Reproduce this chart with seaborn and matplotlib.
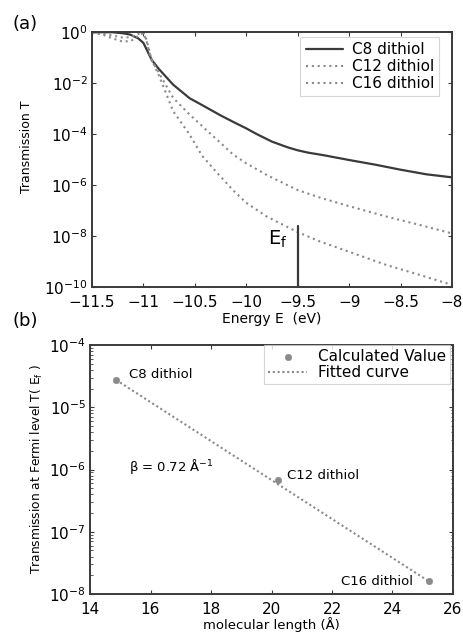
import numpy as np
import pandas as pd
import matplotlib
matplotlib.use("Agg")
import matplotlib.pyplot as plt
import seaborn as sns
from matplotlib.ticker import LogLocator, FixedLocator, NullFormatter

# ---------------- data (panel a): energy vs log10(T) ----------------
c8_E = [-11.5, -11.3, -11.2, -11.13, -11.05, -11.0, -10.92, -10.85, -10.71, -10.55,
        -10.45, -10.25, -10.13, -10.0, -9.9, -9.75, -9.6, -9.5, -9.4, -9.25, -9.0,
        -8.75, -8.5, -8.25, -8.0]
c8_logT = [-0.01, -0.01, -0.05, -0.1, -0.25, -0.43, -1.09, -1.45, -2.07, -2.6,
           -2.82, -3.27, -3.52, -3.78, -4.0, -4.3, -4.52, -4.64, -4.73, -4.83, -5.02,
           -5.2, -5.4, -5.58, -5.7]

c12_E = [-11.5, -11.4, -11.3, -11.2, -11.12, -11.05, -11.0, -10.97, -10.92, -10.85,
         -10.71, -10.55, -10.4, -10.25, -10.13, -10.0, -9.8, -9.5, -9.28, -9.0,
         -8.635, -8.31, -8.0]
c12_logT = [-0.02, -0.06, -0.14, -0.22, -0.2, -0.08, -0.02, -0.3, -1.1, -1.6,
            -2.59, -3.24, -3.8, -4.35, -4.8, -5.15, -5.61, -6.2, -6.5, -6.83,
            -7.24, -7.57, -7.9]

c16_E = [-11.5, -11.4, -11.3, -11.2, -11.12, -11.05, -11.0, -10.97, -10.93, -10.85,
         -10.71, -10.55, -10.43, -10.3, -10.13, -10.0, -9.8, -9.5, -9.28, -9.0,
         -8.635, -8.31, -8.0]
c16_logT = [-0.03, -0.1, -0.25, -0.38, -0.35, -0.15, -0.04, -0.35, -1.0, -1.7,
            -3.11, -4.03, -4.85, -5.45, -6.2, -6.7, -7.24, -7.85, -8.22, -8.62,
            -9.14, -9.53, -9.92]

series_names = ["C8 dithiol", "C12 dithiol", "C16 dithiol"]
fermi_E = -9.5
fermi_top_logT = -7.6

# ---------------- data (panel b) ----------------
mol_names = ["C8 dithiol", "C12 dithiol", "C16 dithiol"]
mol_length = [14.86, 20.2, 25.2]
mol_T = [2.75e-5, 6.8e-7, 1.6e-8]
label_x = [15.3, 20.5, 22.3]
label_logT = [-4.48, -6.09, -7.8]
beta_text = r"$\beta$ = 0.72 Å$^{-1}$"

# ---------------- style ----------------
sns.set_style("ticks")
plt.rcParams["font.family"] = ["DejaVu Sans"]
plt.rcParams["mathtext.fontset"] = "dejavusans"
plt.rcParams["mathtext.default"] = "regular"
plt.rcParams["text.color"] = "black"
plt.rcParams["axes.labelcolor"] = "black"
plt.rcParams["xtick.labelcolor"] = "black"
plt.rcParams["ytick.labelcolor"] = "black"

dark = "#3a3a3a"
gray = "#8a8a8a"

fig = plt.figure(figsize=(4.64, 6.32), dpi=100)
ax1 = fig.add_axes([92/464, 1-287/632, 360/464, 255/632])
ax2 = fig.add_axes([90/464, 1-594/632, 363/464, 249/632])

df = pd.concat([
    pd.DataFrame({"E": c8_E, "T": 10**np.array(c8_logT), "s": series_names[0]}),
    pd.DataFrame({"E": c12_E, "T": 10**np.array(c12_logT), "s": series_names[1]}),
    pd.DataFrame({"E": c16_E, "T": 10**np.array(c16_logT), "s": series_names[2]}),
])

styles = {series_names[0]: (dark, "-", 1.6),
          series_names[1]: (gray, (0, (1, 1.8)), 1.5),
          series_names[2]: (gray, (0, (1, 1.8)), 1.5)}
for name in series_names:
    col, ls, lw = styles[name]
    sns.lineplot(data=df[df["s"] == name], x="E", y="T", ax=ax1, color=col,
                 linestyle=ls, linewidth=lw, label=name, sort=False)

ax1.set_yscale("log")
ax1.set_xlim(-11.5, -8)
ax1.set_ylim(1e-10, 1)
ax1.plot([fermi_E, fermi_E], [1e-10, 10**fermi_top_logT], color=dark, lw=1.6)
ax1.text(-9.79, 10**-8.15, r"E$_f$", fontsize=14, ha="left", va="center")
ax1.set_xticks(np.arange(-11.5, -7.99, 0.5))
ax1.set_xticklabels(["\u221211.5", "\u221211", "\u221210.5", "\u221210", "\u22129.5",
                     "\u22129", "\u22128.5", "\u22128"])
ax1.yaxis.set_major_locator(FixedLocator([1e-10, 1e-8, 1e-6, 1e-4, 1e-2, 1]))
ax1.set_yticklabels([r"10$^{-10}$", r"10$^{-8}$", r"10$^{-6}$", r"10$^{-4}$",
                     r"10$^{-2}$", r"10$^{0}$"])
ax1.yaxis.set_minor_locator(FixedLocator([]))
ax1.set_ylabel("Transmission T", fontsize=9, labelpad=3)
ax1.yaxis.set_label_coords(-0.165, 0.55)
leg = ax1.legend(loc="upper right", bbox_to_anchor=(0.965, 0.98), fontsize=11,
                 frameon=True, fancybox=False, edgecolor="#cccccc", borderpad=0.35,
                 handlelength=2.4, labelspacing=0.12, borderaxespad=0.0,
                 handletextpad=0.6)
leg.get_frame().set_linewidth(0.8)

# ---------------- panel b ----------------
sns.lineplot(x=[mol_length[0], mol_length[-1]], y=[mol_T[0], mol_T[-1]], ax=ax2,
             color=gray, linestyle=(0, (1, 1.3)), linewidth=1.5, label="Fitted curve")
sns.scatterplot(x=mol_length, y=mol_T, ax=ax2, color=gray, s=22, edgecolor=gray,
                label="Calculated Value", zorder=5)
ax2.set_yscale("log")
ax2.set_xlim(14, 26)
ax2.set_ylim(1e-8, 1e-4)
ax2.set_xticks([14, 16, 18, 20, 22, 24, 26])
ax2.yaxis.set_major_locator(FixedLocator([1e-8, 1e-7, 1e-6, 1e-5, 1e-4]))
ax2.set_yticklabels([r"10$^{-8}$", r"10$^{-7}$", r"10$^{-6}$", r"10$^{-5}$", r"10$^{-4}$"])
ax2.yaxis.set_minor_locator(LogLocator(base=10, subs=np.arange(2, 10), numticks=20))
ax2.yaxis.set_minor_formatter(NullFormatter())
for name, lx, ly in zip(mol_names, label_x, label_logT):
    ax2.text(lx, 10**ly, name, fontsize=9.5, ha="left", va="center")
ax2.text(15.3, 10**-5.95, beta_text, fontsize=9.5, ha="left", va="center")
ax2.set_ylabel("Transmission at Fermi level T( E$_f$ )", fontsize=8.8, labelpad=3)
h, l = ax2.get_legend_handles_labels()
leg2 = ax2.legend(h[::-1], l[::-1], loc="upper right", bbox_to_anchor=(0.992, 1.0),
                  fontsize=11, frameon=True, fancybox=False, edgecolor="#cccccc",
                  borderpad=0.25, handlelength=2.6, labelspacing=0.1,
                  borderaxespad=0.0, handletextpad=0.7)
leg2.get_frame().set_linewidth(0.8)

for ax in (ax1, ax2):
    for sp in ax.spines.values():
        sp.set_visible(True)
        sp.set_linewidth(1.4)
        sp.set_color(dark)
    ax.tick_params(which="both", direction="in", top=True, right=True,
                   labelsize=11, color=dark, pad=3)
    ax.tick_params(which="major", length=3)
    ax.tick_params(which="minor", length=1.8)

ax1.tick_params(axis="x", which="major", pad=6)
ax2.tick_params(axis="x", which="major", pad=5.5)
ax1.set_xlabel("Energy E  (eV)", fontsize=10, labelpad=1)
ax2.set_xlabel("molecular length (Å)", fontsize=9.5, labelpad=0)

fig.text(0.027, 0.976, "(a)", fontsize=13, va="top")
fig.text(0.027, 0.506, "(b)", fontsize=13, va="top")

fig.savefig("out.png", dpi=100)
